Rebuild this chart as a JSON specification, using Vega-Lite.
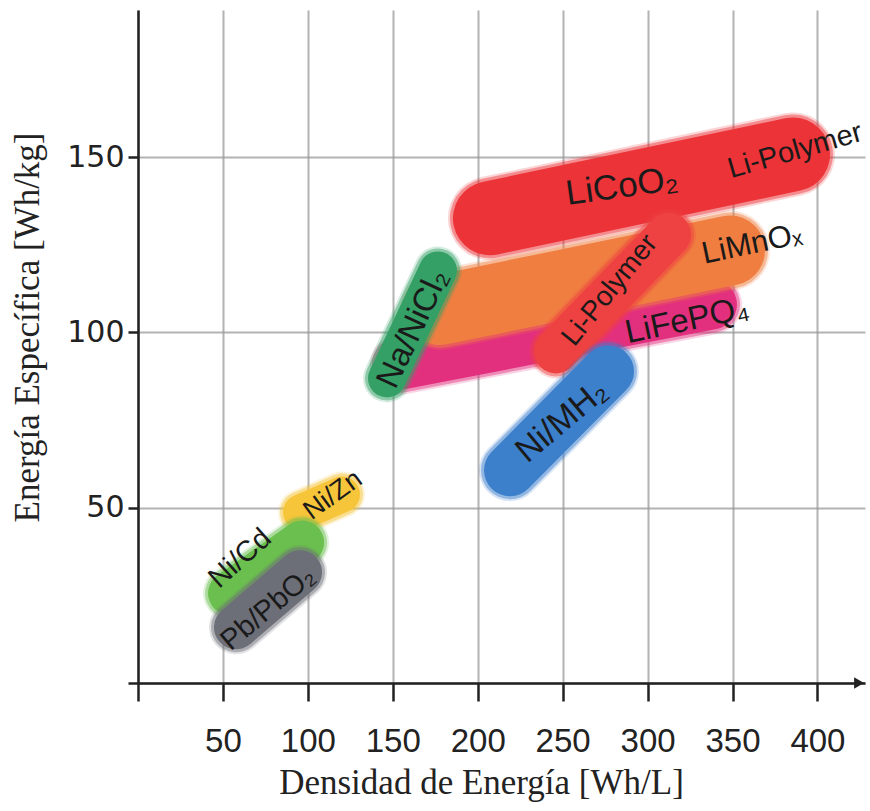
{
  "$schema": "https://vega.github.io/schema/vega-lite/v6.json",
  "width": 727,
  "height": 673,
  "autosize": "none",
  "padding": {"left": 138, "top": 10, "right": 5, "bottom": 128},
  "background": "white",
  "datasets": {
    "caps": [
      {"battery": "Ni/Zn", "x": 96.0, "y": 48.7},
      {"battery": "Ni/Zn", "x": 120.1, "y": 53.8},
      {"battery": "Ni/Cd", "x": 54.2, "y": 25.6},
      {"battery": "Ni/Cd", "x": 96.6, "y": 40.1},
      {"battery": "Pb/PbO2", "x": 57.7, "y": 15.9},
      {"battery": "Pb/PbO2", "x": 95.4, "y": 31.6},
      {"battery": "LiFePO4", "x": 154.2, "y": 90.8},
      {"battery": "LiFePO4", "x": 337.9, "y": 108.0},
      {"battery": "LiMnOx", "x": 177.8, "y": 106.4},
      {"battery": "LiMnOx", "x": 348.5, "y": 123.4},
      {"battery": "Na/NiCl2", "x": 146.6, "y": 86.9},
      {"battery": "Na/NiCl2", "x": 176.6, "y": 117.7},
      {"battery": "LiCoO2", "x": 207.2, "y": 132.6},
      {"battery": "LiCoO2", "x": 385.6, "y": 150.8},
      {"battery": "Li-Polymer", "x": 246.1, "y": 94.6},
      {"battery": "Li-Polymer", "x": 312.6, "y": 127.9},
      {"battery": "Ni/MH2", "x": 219.0, "y": 60.7},
      {"battery": "Ni/MH2", "x": 276.7, "y": 88.9}
    ],
    "labels": [
      {"id": 1, "label": "LiCoO₂", "x": 284.9, "y": 141.7},
      {"id": 2, "label": "Li-Polymer", "x": 386.8, "y": 151.9},
      {"id": 3, "label": "LiMnOₓ", "x": 361.5, "y": 125.1},
      {"id": 4, "label": "LiFePQ₄", "x": 323.2, "y": 103.4},
      {"id": 5, "label": "Li-Polymer", "x": 277.9, "y": 112.0},
      {"id": 6, "label": "Na/NiCl₂", "x": 161.9, "y": 101.1},
      {"id": 7, "label": "Ni/MH₂", "x": 249.6, "y": 74.6},
      {"id": 8, "label": "Ni/Zn", "x": 114.8, "y": 53.6},
      {"id": 9, "label": "Ni/Cd", "x": 60.0, "y": 35.6},
      {"id": 10, "label": "Pb/PbO₂", "x": 76.5, "y": 21.3}
    ],
    "arrow": [{"x": 424.5, "y": 0}]
  },
  "encoding": {
    "x": {
      "field": "x", "type": "quantitative",
      "scale": {"domain": [0, 428], "nice": false},
      "axis": {
        "title": "Densidad de Energía [Wh/L]",
        "values": [0, 50, 100, 150, 200, 250, 300, 350, 400],
        "labelExpr": "datum.value == 0 ? '' : datum.label",
        "labelFont": "Liberation Sans", "labelFontSize": 33,
        "labelPadding": 24, "tickSize": 18, "labelOverlap": false, "labelFlush": false,
        "titleFont": "Liberation Serif", "titleFontSize": 35,
        "titleBaseline": "alphabetic", "titleX": 343, "titleY": 110, "titleAnchor": null
      }
    },
    "y": {
      "field": "y", "type": "quantitative",
      "scale": {"domain": [0, 192], "nice": false},
      "axis": {
        "title": "Energía Específica [Wh/kg]",
        "values": [0, 50, 100, 150],
        "labelExpr": "datum.value == 0 ? '' : datum.label",
        "labelFont": "DejaVu Sans", "labelFontSize": 30,
        "labelPadding": 4, "tickSize": 10, "labelOverlap": false, "labelFlush": false,
        "titleFont": "Liberation Serif", "titleFontSize": 35,
        "titleBaseline": "alphabetic", "titleAngle": -90, "titleX": -100, "titleY": 317
      }
    }
  },
  "layer": [
    {"data": {"name": "caps"}, "transform": [{"filter": "datum.battery == 'Ni/Zn'"}],
     "layer": [
       {"mark": {"type": "line", "strokeCap": "round", "color": "#F7C53A", "strokeWidth": 46, "opacity": 0.2}},
       {"mark": {"type": "line", "strokeCap": "round", "color": "#F7C53A", "strokeWidth": 42, "opacity": 0.45}},
       {"mark": {"type": "line", "strokeCap": "round", "color": "#F7C53A", "strokeWidth": 36, "opacity": 1}}
     ]},
    {"data": {"name": "caps"}, "transform": [{"filter": "datum.battery == 'Ni/Cd'"}],
     "layer": [
       {"mark": {"type": "line", "strokeCap": "round", "color": "#6BBF4E", "strokeWidth": 54, "opacity": 0.2}},
       {"mark": {"type": "line", "strokeCap": "round", "color": "#6BBF4E", "strokeWidth": 50, "opacity": 0.45}},
       {"mark": {"type": "line", "strokeCap": "round", "color": "#6BBF4E", "strokeWidth": 44, "opacity": 1}}
     ]},
    {"data": {"name": "caps"}, "transform": [{"filter": "datum.battery == 'Pb/PbO2'"}],
     "layer": [
       {"mark": {"type": "line", "strokeCap": "round", "color": "#6D6F78", "strokeWidth": 54, "opacity": 0.2}},
       {"mark": {"type": "line", "strokeCap": "round", "color": "#6D6F78", "strokeWidth": 50, "opacity": 0.45}},
       {"mark": {"type": "line", "strokeCap": "round", "color": "#6D6F78", "strokeWidth": 44, "opacity": 1}}
     ]},
    {"data": {"name": "caps"}, "transform": [{"filter": "datum.battery == 'LiFePO4'"}],
     "layer": [
       {"mark": {"type": "line", "strokeCap": "round", "color": "#E3307E", "strokeWidth": 60, "opacity": 0.2}},
       {"mark": {"type": "line", "strokeCap": "round", "color": "#E3307E", "strokeWidth": 56, "opacity": 0.45}},
       {"mark": {"type": "line", "strokeCap": "round", "color": "#E3307E", "strokeWidth": 50, "opacity": 1}}
     ]},
    {"data": {"name": "caps"}, "transform": [{"filter": "datum.battery == 'LiMnOx'"}],
     "layer": [
       {"mark": {"type": "line", "strokeCap": "round", "color": "#F07E40", "strokeWidth": 80, "opacity": 0.2}},
       {"mark": {"type": "line", "strokeCap": "round", "color": "#F07E40", "strokeWidth": 76, "opacity": 0.45}},
       {"mark": {"type": "line", "strokeCap": "round", "color": "#F07E40", "strokeWidth": 70, "opacity": 1}}
     ]},
    {"data": {"name": "caps"}, "transform": [{"filter": "datum.battery == 'Na/NiCl2'"}],
     "layer": [
       {"mark": {"type": "line", "strokeCap": "round", "color": "#34A065", "strokeWidth": 48, "opacity": 0.2}},
       {"mark": {"type": "line", "strokeCap": "round", "color": "#34A065", "strokeWidth": 44, "opacity": 0.45}},
       {"mark": {"type": "line", "strokeCap": "round", "color": "#34A065", "strokeWidth": 38, "opacity": 1}}
     ]},
    {"data": {"name": "caps"}, "transform": [{"filter": "datum.battery == 'LiCoO2'"}],
     "layer": [
       {"mark": {"type": "line", "strokeCap": "round", "color": "#EC3338", "strokeWidth": 84, "opacity": 0.2}},
       {"mark": {"type": "line", "strokeCap": "round", "color": "#EC3338", "strokeWidth": 80, "opacity": 0.45}},
       {"mark": {"type": "line", "strokeCap": "round", "color": "#EC3338", "strokeWidth": 74, "opacity": 1}}
     ]},
    {"data": {"name": "caps"}, "transform": [{"filter": "datum.battery == 'Li-Polymer'"}],
     "layer": [
       {"mark": {"type": "line", "strokeCap": "round", "color": "#EE4141", "strokeWidth": 54, "opacity": 0.2}},
       {"mark": {"type": "line", "strokeCap": "round", "color": "#EE4141", "strokeWidth": 50, "opacity": 0.45}},
       {"mark": {"type": "line", "strokeCap": "round", "color": "#EE4141", "strokeWidth": 44, "opacity": 1}}
     ]},
    {"data": {"name": "caps"}, "transform": [{"filter": "datum.battery == 'Ni/MH2'"}],
     "layer": [
       {"mark": {"type": "line", "strokeCap": "round", "color": "#3C7FCB", "strokeWidth": 62, "opacity": 0.2}},
       {"mark": {"type": "line", "strokeCap": "round", "color": "#3C7FCB", "strokeWidth": 58, "opacity": 0.45}},
       {"mark": {"type": "line", "strokeCap": "round", "color": "#3C7FCB", "strokeWidth": 52, "opacity": 1}}
     ]},
    {"data": {"name": "arrow"},
     "mark": {"type": "point", "shape": "triangle-right", "size": 130, "filled": true, "color": "#222222", "opacity": 1}},
    {"data": {"name": "labels"}, "transform": [{"filter": "datum.id == 1"}],
     "mark": {"type": "text", "font": "Liberation Sans", "fontSize": 35, "angle": -8, "color": "#1a1a1a", "align": "center", "baseline": "middle"},
     "encoding": {"text": {"field": "label"}}},
    {"data": {"name": "labels"}, "transform": [{"filter": "datum.id == 2"}],
     "mark": {"type": "text", "font": "Liberation Sans", "fontSize": 29, "angle": -16, "color": "#1a1a1a", "align": "center", "baseline": "middle"},
     "encoding": {"text": {"field": "label"}}},
    {"data": {"name": "labels"}, "transform": [{"filter": "datum.id == 3"}],
     "mark": {"type": "text", "font": "Liberation Sans", "fontSize": 31, "angle": -12, "color": "#1a1a1a", "align": "center", "baseline": "middle"},
     "encoding": {"text": {"field": "label"}}},
    {"data": {"name": "labels"}, "transform": [{"filter": "datum.id == 4"}],
     "mark": {"type": "text", "font": "Liberation Sans", "fontSize": 33, "angle": -12, "color": "#1a1a1a", "align": "center", "baseline": "middle"},
     "encoding": {"text": {"field": "label"}}},
    {"data": {"name": "labels"}, "transform": [{"filter": "datum.id == 5"}],
     "mark": {"type": "text", "font": "Liberation Sans", "fontSize": 28, "angle": -51, "color": "#1a1a1a", "align": "center", "baseline": "middle"},
     "encoding": {"text": {"field": "label"}}},
    {"data": {"name": "labels"}, "transform": [{"filter": "datum.id == 6"}],
     "mark": {"type": "text", "font": "Liberation Sans", "fontSize": 33, "angle": -65, "color": "#1a1a1a", "align": "center", "baseline": "middle"},
     "encoding": {"text": {"field": "label"}}},
    {"data": {"name": "labels"}, "transform": [{"filter": "datum.id == 7"}],
     "mark": {"type": "text", "font": "Liberation Sans", "fontSize": 34, "angle": -40, "color": "#1a1a1a", "align": "center", "baseline": "middle"},
     "encoding": {"text": {"field": "label"}}},
    {"data": {"name": "labels"}, "transform": [{"filter": "datum.id == 8"}],
     "mark": {"type": "text", "font": "Liberation Sans", "fontSize": 27, "angle": -36, "color": "#1a1a1a", "align": "center", "baseline": "middle"},
     "encoding": {"text": {"field": "label"}}},
    {"data": {"name": "labels"}, "transform": [{"filter": "datum.id == 9"}],
     "mark": {"type": "text", "font": "Liberation Sans", "fontSize": 29, "angle": -42, "color": "#1a1a1a", "align": "center", "baseline": "middle"},
     "encoding": {"text": {"field": "label"}}},
    {"data": {"name": "labels"}, "transform": [{"filter": "datum.id == 10"}],
     "mark": {"type": "text", "font": "Liberation Sans", "fontSize": 29, "angle": -40, "color": "#1a1a1a", "align": "center", "baseline": "middle"},
     "encoding": {"text": {"field": "label"}}}
  ],
  "config": {
    "view": {"stroke": null},
    "axis": {
      "zindex": 1,
      "domainColor": "#222222", "domainWidth": 2.5,
      "tickColor": "#222222", "tickWidth": 2.5,
      "gridColor": "#999999", "gridWidth": 2, "gridOpacity": 0.75,
      "labelColor": "#222222", "titleColor": "#222222", "titleFontWeight": "normal"
    }
  }
}
